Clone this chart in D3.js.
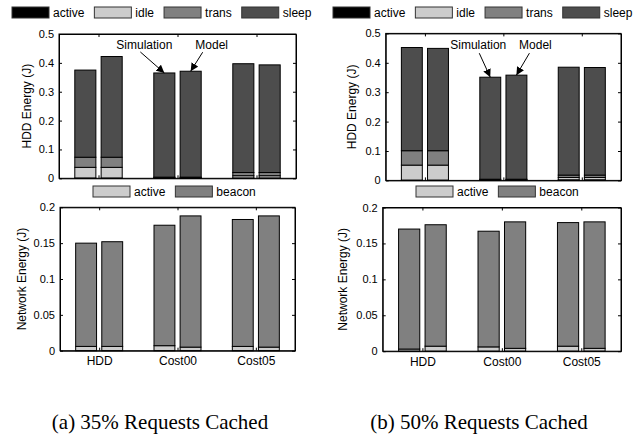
<!DOCTYPE html>
<html>
<head>
<meta charset="utf-8">
<script src="https://cdn.jsdelivr.net/npm/d3@7"></script>
<style>
  body { margin: 0; background: #fff; }
  text { font-family: "Liberation Sans", Arial, sans-serif; fill: #000; }
</style>
</head>
<body>
<div id="chart"></div>
<script>
// slots: HDD sim, HDD model, gap, Cost00 sim, Cost00 model, gap, Cost05 sim, Cost05 model
var groups = ["HDD", "Cost00", "Cost05"]
var hddStates = ["active", "idle", "trans", "sleep"]
var netStates = ["active", "beacon"]
var hddColors = ["#000000", "#cccccc", "#808080", "#4d4d4d"]
var netColors = ["#cccccc", "#808080"]
var hddTicks = [0, 0.1, 0.2, 0.3, 0.4, 0.5]
var netTicks = [0, 0.05, 0.1, 0.15, 0.2]

// (a) 35% requests cached
var hdd35Active = [0.001, 0.001, 0, 0.001, 0.001, 0, 0.001, 0.001]
var hdd35Idle   = [0.037, 0.037, 0, 0.001, 0.001, 0, 0.008, 0.008]
var hdd35Trans  = [0.035, 0.035, 0, 0.002, 0.002, 0, 0.011, 0.011]
var hdd35Sleep  = [0.302, 0.349, 0, 0.361, 0.367, 0, 0.377, 0.373]
var net35Active = [0.006, 0.006, 0, 0.007, 0.005, 0, 0.006, 0.005]
var net35Beacon = [0.144, 0.146, 0, 0.168, 0.183, 0, 0.177, 0.183]

// (b) 50% requests cached
var hdd50Active = [0.001, 0.001, 0, 0.001, 0.001, 0, 0.002, 0.002]
var hdd50Idle   = [0.051, 0.051, 0, 0.001, 0.001, 0, 0.008, 0.008]
var hdd50Trans  = [0.049, 0.049, 0, 0.002, 0.002, 0, 0.008, 0.008]
var hdd50Sleep  = [0.351, 0.348, 0, 0.347, 0.354, 0, 0.367, 0.366]
var net50Active = [0.003, 0.007, 0, 0.006, 0.004, 0, 0.007, 0.004]
var net50Beacon = [0.167, 0.169, 0, 0.161, 0.176, 0, 0.172, 0.176]

var captions = ["(a) 35% Requests Cached", "(b) 50% Requests Cached"]

function rows(keys, cols) {
    return cols[0].map(function(_, i) {
        var r = {pos: i + 1}
        keys.forEach(function(k, j) { r[k] = cols[j][i] })
        return r
    })
}

var svg = d3.select("#chart")
    .append("svg")
      .attr("width", 640)
      .attr("height", 441)
      .style("background", "#fff")

var defs = svg.append("defs")
defs.append("marker")
    .attr("id", "arrow")
    .attr("viewBox", "0 0 10 10")
    .attr("refX", 10).attr("refY", 5)
    .attr("markerWidth", 8).attr("markerHeight", 8)
    .attr("markerUnits", "userSpaceOnUse")
    .attr("orient", "auto")
  .append("path")
    .attr("d", "M0,0L10,5L0,10Z")
    .attr("fill", "#000")

var panels = [
  {box: [59, 296, 34, 178.3], keys: hddStates, colors: hddColors, ymax: 0.5, ticks: hddTicks,
   data: rows(hddStates, [hdd35Active, hdd35Idle, hdd35Trans, hdd35Sleep]),
   ylabel: "HDD Energy (J)", labx: 27, xlab: false,
   notes: [{label: "Simulation", bar: 4, tail: [-24, -21], text: [-20, -24]},
           {label: "Model", bar: 5, tail: [12, -19], text: [21, -22]}]},
  {box: [60, 295, 207.3, 350.7], keys: netStates, colors: netColors, ymax: 0.2, ticks: netTicks,
   data: rows(netStates, [net35Active, net35Beacon]),
   ylabel: "Network Energy (J)", labx: 22, xlab: true, notes: []},
  {box: [385.7, 621, 33.4, 180.4], keys: hddStates, colors: hddColors, ymax: 0.5, ticks: hddTicks,
   data: rows(hddStates, [hdd50Active, hdd50Idle, hdd50Trans, hdd50Sleep]),
   ylabel: "HDD Energy (J)", labx: 352, xlab: false,
   notes: [{label: "Simulation", bar: 4, tail: [-11, -24], text: [-12, -28]},
           {label: "Model", bar: 5, tail: [13, -22], text: [19, -26]}]},
  {box: [382.7, 621, 207.5, 351.2], keys: netStates, colors: netColors, ymax: 0.2, ticks: netTicks,
   data: rows(netStates, [net50Active, net50Beacon]),
   ylabel: "Network Energy (J)", labx: 343, xlab: true, notes: []}
]

panels.forEach(function(p) {
    var x = d3.scaleLinear().domain([0, 9]).range([p.box[0], p.box[1]])
    var y = d3.scaleLinear().domain([0, p.ymax]).range([p.box[3], p.box[2]])
    var bw = (x(1) - x(0)) * 0.8
    var fmt = d3.format("~g")

    var stacked = d3.stack().keys(p.keys)(p.data)

    // bars
    svg.append("g").selectAll("g")
        .data(stacked)
        .enter()
        .append("g")
          .attr("fill", function(d, i) { return p.colors[i] })
        .selectAll("rect")
        .data(function(d) { return d })
        .enter()
        .append("rect")
          .attr("x", function(d) { return x(d.data.pos) - bw / 2 })
          .attr("y", function(d) { return y(d[1]) })
          .attr("width", bw)
          .attr("height", function(d) { return y(d[0]) - y(d[1]) })
          .attr("stroke", "#000")
          .attr("stroke-width", 1)

    // axes, ticks pointing in
    svg.append("g")
        .attr("transform", "translate(" + p.box[0] + ",0)")
        .style("font-size", "11px")
        .call(d3.axisLeft(y).tickValues(p.ticks).tickFormat(fmt).tickSizeInner(-3).tickSizeOuter(0).tickPadding(5))
    svg.append("g")
        .attr("transform", "translate(" + p.box[1] + ",0)")
        .call(d3.axisRight(y).tickValues(p.ticks).tickFormat("").tickSizeInner(-3).tickSizeOuter(0))
    svg.append("g")
        .attr("transform", "translate(0," + p.box[2] + ")")
        .call(d3.axisTop(x).tickValues([1.5, 4.5, 7.5]).tickFormat("").tickSizeInner(-3).tickSizeOuter(0))
    svg.append("g")
        .attr("transform", "translate(0," + p.box[3] + ")")
        .style("font-size", "12px")
        .call(d3.axisBottom(x).tickValues([1.5, 4.5, 7.5])
            .tickFormat(function(d, i) { return p.xlab ? groups[i] : "" })
            .tickSizeInner(-3).tickSizeOuter(0).tickPadding(6))
    svg.selectAll(".tick text").attr("fill", "#000").attr("font-family", "Liberation Sans, Arial, sans-serif")
    svg.selectAll(".domain, .tick line").attr("stroke", "#000")

    svg.append("rect")
        .attr("x", p.box[0]).attr("y", p.box[2])
        .attr("width", p.box[1] - p.box[0]).attr("height", p.box[3] - p.box[2])
        .attr("fill", "none").attr("stroke", "#000")

    svg.append("text")
        .attr("transform", "translate(" + p.labx + "," + ((p.box[2] + p.box[3]) / 2) + ")rotate(-90)")
        .attr("text-anchor", "middle")
        .attr("dy", "0.35em")
        .style("font-size", "12px")
        .text(p.ylabel)

    // Simulation / Model arrows
    p.notes.forEach(function(n) {
        var d = p.data[n.bar - 1]
        var total = d3.sum(p.keys, function(k) { return d[k] })
        var hx = x(d.pos), hy = y(total)
        svg.append("line")
            .attr("x1", hx + n.tail[0]).attr("y1", hy + n.tail[1])
            .attr("x2", hx).attr("y2", hy)
            .attr("stroke", "#000").attr("stroke-width", 1)
            .attr("marker-end", "url(#arrow)")
        svg.append("text")
            .attr("x", hx + n.text[0]).attr("y", hy + n.text[1])
            .attr("text-anchor", "middle")
            .style("font-size", "12px")
            .text(n.label)
    })
})

// legends
function legend(x0, y0, keys, colors) {
    var g = svg.append("g").style("font-size", "12px")
    var cx = x0
    keys.forEach(function(k, i) {
        g.append("rect")
            .attr("x", cx).attr("y", y0)
            .attr("width", 37).attr("height", 11)
            .attr("fill", colors[i])
            .attr("stroke", "#333")
        var t = g.append("text")
            .attr("x", cx + 41).attr("y", y0 + 10)
            .text(k)
        cx += 41 + t.node().getComputedTextLength() + 10
    })
}
legend(12, 7, hddStates, hddColors)
legend(333, 7, hddStates, hddColors)
legend(93, 186, netStates, netColors)
legend(416, 186, netStates, netColors)

// captions
svg.selectAll(".caption")
    .data(captions)
    .enter()
    .append("text")
      .attr("class", "caption")
      .attr("x", function(d, i) { return i == 0 ? 160 : 479 })
      .attr("y", 429)
      .attr("text-anchor", "middle")
      .style("font-family", "Liberation Serif, Times New Roman, serif")
      .style("font-size", "21px")
      .text(function(d) { return d })
</script>
</body>
</html>
